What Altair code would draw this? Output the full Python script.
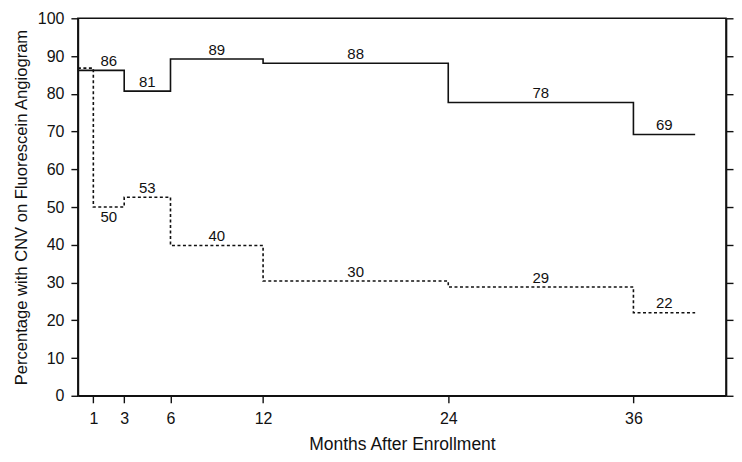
import altair as alt
import pandas as pd

FONT = "Liberation Sans"

# Solid series (step-after)
solid_x = [0, 3, 6, 12, 24, 36, 40]
solid_y = [86.2, 80.7, 89.2, 88.1, 77.7, 69.2, 69.2]

# Dotted series (step-after)
dash_x = [0, 1, 3, 6, 12, 24, 36, 40]
dash_y = [86.8, 50.0, 52.6, 39.8, 30.4, 28.8, 22.0, 22.0]

# Value labels
solid_lab_x = [2, 4.5, 9, 18, 30, 38]
solid_lab_y = [86.2, 80.7, 89.2, 88.1, 77.7, 69.2]
solid_lab = ["86", "81", "89", "88", "78", "69"]

dash_above_x = [4.5, 9, 18, 30, 38]
dash_above_y = [52.6, 39.8, 30.4, 28.8, 22.0]
dash_above_lab = ["53", "40", "30", "29", "22"]

dash_below_x = [2]
dash_below_y = [50.0]
dash_below_lab = ["50"]

x_ticks = [1, 3, 6, 12, 24, 36]
y_ticks = [0, 10, 20, 30, 40, 50, 60, 70, 80, 90, 100]

solid_df = pd.DataFrame({"x": solid_x, "y": solid_y})
dash_df = pd.DataFrame({"x": dash_x, "y": dash_y})
above_df = pd.DataFrame({
    "x": solid_lab_x + dash_above_x,
    "y": solid_lab_y + dash_above_y,
    "label": solid_lab + dash_above_lab,
})
below_df = pd.DataFrame({"x": dash_below_x, "y": dash_below_y, "label": dash_below_lab})

xscale = alt.Scale(domain=[0, 42], nice=False, zero=False)
yscale = alt.Scale(domain=[0, 100], nice=False)

xaxis = alt.Axis(values=x_ticks, title="Months After Enrollment", grid=False,
                 tickSize=7, labelPadding=8, titlePadding=9, labelOverlap=False,
                 labelFontSize=16, titleFontSize=17.5, labelColor="#111",
                 titleColor="#111", titleFontWeight="normal",
                 domainColor="#111", tickColor="#111", domainWidth=1.6, tickWidth=1.4)
yaxis = alt.Axis(values=y_ticks, title="Percentage with CNV on Fluorescein Angiogram",
                 grid=False, tickSize=7, labelPadding=7, titlePadding=8, labelOverlap=False,
                 labelFontSize=16, titleFontSize=16.6, labelColor="#111",
                 titleColor="#111", titleFontWeight="normal",
                 domainColor="#111", tickColor="#111", domainWidth=1.6, tickWidth=1.4)
yaxis_right = alt.Axis(values=y_ticks, orient="right", labels=False, title=None,
                       grid=False, tickSize=7, domainColor="#111", tickColor="#111",
                       domainWidth=1.6, tickWidth=1.4)

X = alt.X("x:Q", scale=xscale, axis=xaxis)
Y = alt.Y("y:Q", scale=yscale, axis=yaxis)

solid = alt.Chart(solid_df).mark_line(
    interpolate="step-after", color="#111", strokeWidth=1.6
).encode(x=X, y=Y)

dashed = alt.Chart(dash_df).mark_line(
    interpolate="step-after", color="#111", strokeWidth=1.6, strokeDash=[3, 2.5]
).encode(x=X, y=Y)

above = alt.Chart(above_df).mark_text(
    font=FONT, fontSize=15, color="#111", baseline="middle", dy=-9.5
).encode(x=X, y=Y, text="label:N")

below = alt.Chart(below_df).mark_text(
    font=FONT, fontSize=15, color="#111", baseline="middle", dy=10
).encode(x=X, y=Y, text="label:N")

right_axis = alt.Chart(dash_df).mark_line(opacity=0).encode(
    x=X,
    y=alt.Y("y:Q", scale=yscale, axis=yaxis_right),
)

left = alt.layer(solid, dashed, above, below)

chart = alt.layer(left, right_axis).resolve_axis(y="independent").properties(
    width=649,
    height=378,
    autosize=alt.AutoSizeParams(type="none"),
    padding={"left": 70, "top": 10, "right": 8, "bottom": 58},
).configure(
    font=FONT,
).configure_view(
    stroke="#111", strokeWidth=1.6
).configure_axis(
    labelFont=FONT, titleFont=FONT
)

chart.save("out.html", embed_options={"renderer": "svg", "actions": False})
